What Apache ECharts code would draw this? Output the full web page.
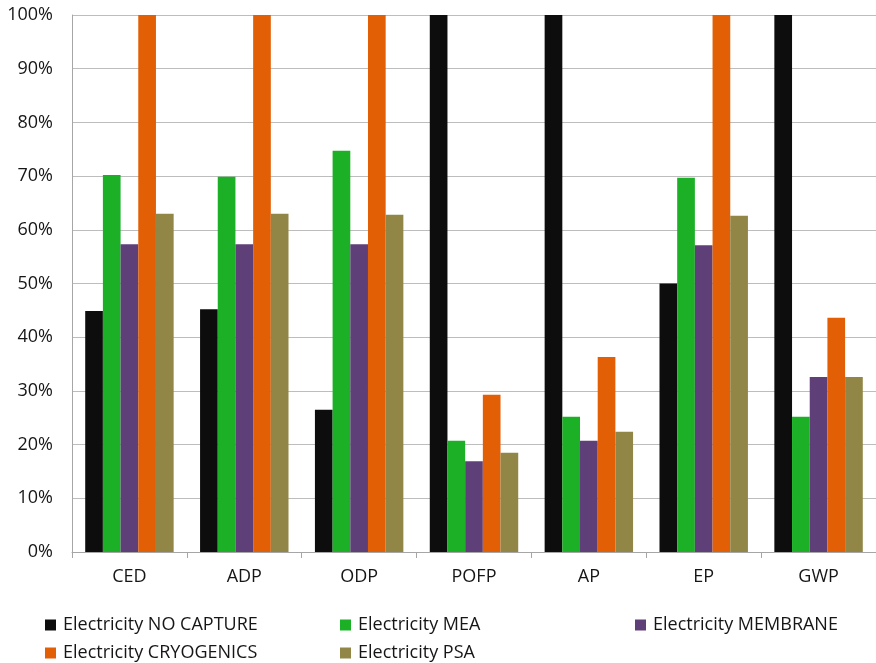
<!DOCTYPE html>
<html>
<head>
<meta charset="utf-8">
<script src="https://cdn.jsdelivr.net/npm/echarts@6/dist/echarts.min.js"></script>
<style>
  html, body { margin: 0; padding: 0; background: #fff; }
  #chart { width: 876px; height: 663px; }
</style>
</head>
<body>
<div id="chart"></div>
<script>
// Impact categories on the x axis
const categories = ['CED', 'ADP', 'ODP', 'POFP', 'AP', 'EP', 'GWP'];

// Relative impact (%) of each electricity scenario
const noCapture   = [44.9, 45.2, 26.5, 100, 100, 50.0, 100];
const mea         = [70.2, 69.9, 74.7, 20.7, 25.2, 69.7, 25.2];
const membrane    = [57.3, 57.3, 57.3, 16.9, 20.7, 57.1, 32.6];
const cryogenics  = [100, 100, 100, 29.3, 36.3, 100, 43.6];
const psa         = [63.0, 63.0, 62.8, 18.5, 22.4, 62.6, 32.6];

const seriesNames = [
  'Electricity NO CAPTURE',
  'Electricity MEA',
  'Electricity MEMBRANE',
  'Electricity CRYOGENICS',
  'Electricity PSA'
];
const seriesData = [noCapture, mea, membrane, cryogenics, psa];
const colors = ['#0d0d0d', '#1bb026', '#5e3f78', '#e35f06', '#918645'];

const FONT = '"Open Sans", "Liberation Sans", "DejaVu Sans", sans-serif';
const TEXT_COLOR = '#161616';

const chart = echarts.init(document.getElementById('chart'), null, { renderer: 'canvas' });

// One legend entry per component so each can sit in its own column/row
function legendItem(name, left, top) {
  return {
    left: left, top: top, padding: 0,
    itemWidth: 11, itemHeight: 11,
    icon: 'rect',
    selectedMode: false,
    textStyle: { fontFamily: FONT, fontSize: 18, color: TEXT_COLOR, padding: [0, 0, 0, 2] },
    data: [name]
  };
}

chart.setOption({
  animation: false,
  color: colors,
  grid: { left: 72, right: -1, top: 15, bottom: 111, containLabel: false },
  legend: [
    legendItem(seriesNames[0], 45, 616),
    legendItem(seriesNames[3], 45, 644),
    legendItem(seriesNames[1], 340, 616),
    legendItem(seriesNames[4], 340, 644),
    legendItem(seriesNames[2], 635, 616)
  ],
  xAxis: {
    type: 'category',
    data: categories,
    axisLine: { lineStyle: { color: '#a6a6a6', width: 1 } },
    axisTick: { show: true, length: 6, lineStyle: { color: '#a6a6a6' } },
    axisLabel: { fontFamily: FONT, fontSize: 18, color: TEXT_COLOR, margin: 16 }
  },
  yAxis: {
    type: 'value',
    min: 0, max: 100, interval: 10,
    axisLine: { show: true, lineStyle: { color: '#a6a6a6' } },
    axisTick: { show: false },
    splitLine: { lineStyle: { color: '#bdbdbd', width: 1 } },
    axisLabel: {
      fontFamily: FONT, fontSize: 18, color: TEXT_COLOR, margin: 19,
      formatter: v => v + '%'
    }
  },
  series: seriesNames.map((name, i) => ({
    name: name,
    type: 'bar',
    data: seriesData[i],
    barGap: '0%',
    barCategoryGap: '23%',
    itemStyle: { color: colors[i] }
  }))
});
</script>
</body>
</html>
